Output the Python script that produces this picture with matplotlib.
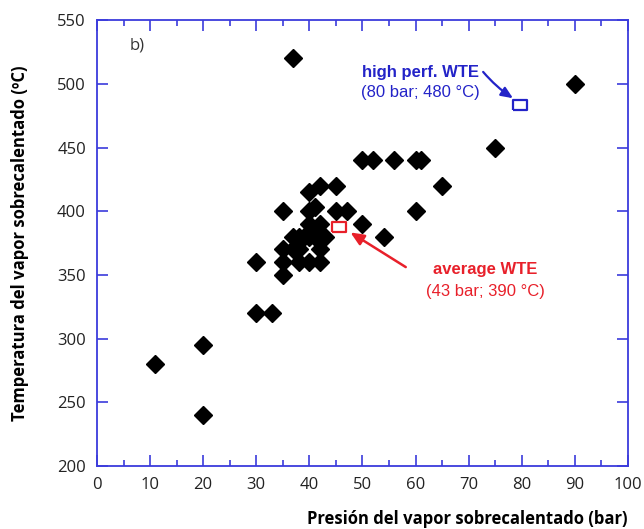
import numpy as np
import matplotlib
matplotlib.use("Agg")
import matplotlib.pyplot as plt

# plant data (pressure in bar, temperature in degC)
pressure = [11, 20, 20, 30, 30, 33, 35, 35, 35, 35, 37, 37, 38, 38, 37, 38, 39,
            40, 41, 43, 40, 42, 42, 40, 42, 41, 40, 41, 40, 42, 45, 45, 47, 50,
            54, 50, 52, 56, 60, 61, 60, 65, 75, 90]
temperature = [280, 295, 240, 360, 320, 320, 400, 370, 360, 350, 520, 370, 370,
               360, 380, 380, 380, 380, 380, 380, 360, 360, 370, 390, 390, 385,
               400, 403, 415, 420, 420, 400, 400, 390, 380, 440, 440, 440, 440,
               440, 400, 420, 450, 500]

avg_wte = (45.5, 388)
high_wte = (79.7, 483)

x_ticks = np.arange(0, 101, 10)
y_ticks = np.arange(200, 551, 50)

frame_blue = "#3b3bdc"
red = "#e8202a"
blue = "#2323c8"

fig = plt.figure(figsize=(6.44, 5.29), dpi=100)
ax = fig.add_axes([0.1506, 0.119, 0.8244, 0.843])

ax.plot(pressure, temperature, ls="none", marker="D", ms=9, color="black")

rect = [(-1.4, -1), (1.4, -1), (1.4, 1), (-1.4, 1), (-1.4, -1)]
ax.plot(*avg_wte, ls="none", marker=rect, ms=10, mfc="white", mec=red, mew=1.6)
ax.plot(*high_wte, ls="none", marker=rect, ms=10, mfc="white", mec=blue, mew=1.6)

ax.set_xlim(0, 100)
ax.set_ylim(200, 550)
ax.set_xticks(x_ticks)
ax.set_xticks(np.arange(5, 100, 10), minor=True)
ax.set_yticks(y_ticks)
for s in ax.spines.values():
    s.set_color(frame_blue)
    s.set_linewidth(1.3)
ax.tick_params(which="both", direction="in", top=True, right=True,
               color=frame_blue, width=1.2, labelsize=12, labelcolor="#222222",
               pad=8)
ax.tick_params(which="major", length=8)
ax.tick_params(which="minor", length=4)
for lab in ax.get_xticklabels() + ax.get_yticklabels():
    lab.set_family("Open Sans")

ax.set_xlabel("Presión del vapor sobrecalentado (bar)", fontsize=12,
              fontweight="bold", family="Open Sans", loc="right", labelpad=12)
ax.set_ylabel("Temperatura del vapor sobrecalentado (ºC)", fontsize=12,
              fontweight="bold", family="Open Sans", labelpad=20)

ax.text(7.5, 530, "b)", fontsize=12, color="#333333", ha="center", va="center",
        family="Open Sans")

# average WTE annotation
ax.annotate("", xy=(47.3, 384.5), xytext=(58.6, 355),
            arrowprops=dict(arrowstyle="-|>,head_length=0.8,head_width=0.35",
                            color=red, lw=1.8))
ax.text(73.1, 354, "average WTE", color=red, fontsize=12, fontweight="bold",
        ha="center", va="center", family="Liberation Sans")
ax.text(73.1, 337, "(43 bar; 390 °C)", color=red, fontsize=12,
        ha="center", va="center", family="Liberation Sans")

# high performance WTE annotation
ax.annotate("", xy=(78.8, 487.5), xytext=(72.4, 511),
            arrowprops=dict(arrowstyle="-|>,head_length=0.7,head_width=0.3",
                            color=blue, lw=1.6,
                            connectionstyle="arc3,rad=0.08"))
ax.text(61, 509, "high perf. WTE", color=blue, fontsize=12, fontweight="bold",
        ha="center", va="center", family="Liberation Sans")
ax.text(61, 493.5, "(80 bar; 480 °C)", color=blue, fontsize=12,
        ha="center", va="center", family="Liberation Sans")

fig.savefig("out.png", dpi=100)
